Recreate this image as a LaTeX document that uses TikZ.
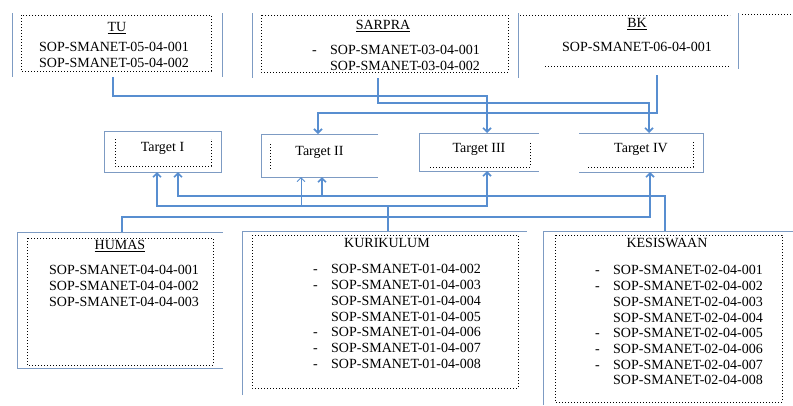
\documentclass[tikz,border=0pt]{standalone}
\usepackage{fontspec}
\setmainfont{Liberation Serif}
\usetikzlibrary{arrows.meta,fit}
\definecolor{linkblue}{RGB}{88,142,208}
\definecolor{frameblue}{RGB}{125,155,195}
\tikzset{
  unit/.style={inner sep=0pt, outer sep=0pt},
  frame/.style={draw=frameblue, line width=0.9pt},
  dotbox/.style={draw=black, dotted, line width=1pt},
  target/.style={inner sep=0pt, outer sep=0pt, text depth=9pt},
  sopitems/.style={inner sep=0pt, align=left, anchor=north west},
  link/.style={draw=linkblue, line width=1.6pt, -{Straight Barb[length=4pt,width=8pt]}},
  thinlink/.style={line width=0.9pt}
}
\newcommand{\unitbox}[3] {\node [unit, fit={(#2) (#3)}] (#1) {};}
\newcommand{\unittitle}[3] {\node [anchor=base] at (#1) (#2) {#3};}
\newcommand{\targetnode}[5] {\node [target, minimum width=#3pt, minimum height=#4pt] at (#1) (#2) {#5};}
\newcommand{\port}[2] {\coordinate (#1) at (#2);}
\newcommand{\dashitem}{\makebox[18pt][l]{-}}
\newcommand{\gapitem}{\hspace*{18pt}}

\begin{document}
\begin{tikzpicture}[x=1pt, y=-1pt, every node/.style={font=\fontsize{14pt}{15.7pt}\selectfont}]
\useasboundingbox (0,0) rectangle (793,405);

% units above
\unitbox {tu} {12,13} {222,77};
\unitbox {sarpra} {252,13} {518,78};
\unitbox {bk} {528,13} {738,75};
\draw [frame] (tu.north west) -- (tu.south west) (tu.north east) -- (tu.south east);
\draw [frame] (sarpra.north west) -- (sarpra.south west) (sarpra.north east) -- (sarpra.south east);
\draw [frame] (bk.north east) -- ([yshift=6pt]bk.south east);
\draw [dotbox] (21,15) rectangle (211,71);
\draw [dotbox] (261,15) rectangle (508,72);
\draw [dotbox] (520,15) -- (730,15) (545,66) -- (730,66) (742,14) -- (793,14);

\unittitle {117,31.5} {tutitle} {\underline{TU}};
\unittitle {383,29.5} {sarpratitle} {\underline{SARPRA}};
\unittitle {637,27.5} {bktitle} {\underline{BK}};
\node [sopitems, anchor=north, align=center] at (114,42.4) (tulist) {SOP-SMANET-05-04-001\\SOP-SMANET-05-04-002};
\node [sopitems] at (312,45.4) (sarpralist) {\dashitem SOP-SMANET-03-04-001\\\gapitem SOP-SMANET-03-04-002};
\node [sopitems, anchor=north, align=center] at (637,42.4) (bklist) {SOP-SMANET-06-04-001};

% targets
\targetnode {162.5,151.5} {t1} {117} {41} {Target I};
\targetnode {319.5,155.5} {t2} {117} {43} {Target II};
\targetnode {479,152} {t3} {120} {38} {Target III};
\targetnode {641,152.5} {t4} {124} {39} {Target IV};
\draw [frame] (t1.north west) rectangle (t1.south east);
\draw [frame] (t2.north east) -- (t2.north west) -- (t2.south west) -- (t2.south east);
\draw [frame] (t3.north east) -- (t3.north west) -- (t3.south west) -- (t3.south east);
\draw [frame] (t4.north west) -- (t4.north east) -- (t4.south east) -- (t4.south west);
\draw [dotbox] (115,139) -- (115,166) -- (211,166) -- (211,139);
\draw [dotbox] (270,144) -- (270,169);
\draw [dotbox] (430,167) -- (530,167) -- (530,142);
\draw [dotbox] (588,167) -- (693,167) -- (693,142);

% units below
\unitbox {hum} {17,232} {223,368};
\unitbox {kur} {242,231} {527,395};
\unitbox {kes} {543,231} {793,405};
\draw [frame] (hum.south east) -- (hum.south west) -- (hum.north west) -- (hum.north east);
\draw [frame] (kur.south west) -- (kur.north west) -- (kur.north east);
\draw [frame] (kes.south west) -- (kes.north west) -- (kes.north east);
\draw [dotbox] (27,238) rectangle (213,365);
\draw [dotbox] (252,235) rectangle (518,388);
\draw [dotbox] (555,235) rectangle (782,402);

\unittitle {120,249.5} {humtitle} {\underline{HUMAS}};
\unittitle {387,247.5} {kurtitle} {KURIKULUM};
\unittitle {667,247.5} {kestitle} {KESISWAAN};
\node [sopitems] at (49,265.4) (humlist) {SOP-SMANET-04-04-001\\SOP-SMANET-04-04-002\\SOP-SMANET-04-04-003};
\node [sopitems] at (313,264.4) (kurlist) {\dashitem SOP-SMANET-01-04-002\\\dashitem SOP-SMANET-01-04-003\\\gapitem SOP-SMANET-01-04-004\\\gapitem SOP-SMANET-01-04-005\\\dashitem SOP-SMANET-01-04-006\\\dashitem SOP-SMANET-01-04-007\\\dashitem SOP-SMANET-01-04-008};
\node [sopitems] at (595,265.4) (keslist) {\dashitem SOP-SMANET-02-04-001\\\dashitem SOP-SMANET-02-04-002\\\gapitem SOP-SMANET-02-04-003\\\gapitem SOP-SMANET-02-04-004\\\dashitem SOP-SMANET-02-04-005\\\dashitem SOP-SMANET-02-04-006\\\dashitem SOP-SMANET-02-04-007\\\gapitem SOP-SMANET-02-04-008};

% ports on the targets
\port {t1kur} {157,172};
\port {t1kes} {178,172};
\port {t2top} {318,134};
\port {t2kur} {301,177};
\port {t2kes} {322,177};
\port {t3top} {487,133};
\port {t3bot} {487,171};
\port {t4top} {649,133};
\port {t4bot} {650,172};

% links
\draw [link] ([xshift=-4pt]tu.south) -- ++(0,19) -| (t3top);
\draw [link] ([xshift=-7pt]sarpra.south) -- ++(0,25) -| (t4top);
\draw [link] ([xshift=24pt]bk.south) -- ++(0,38) -| (t2top);
\draw [link] ([xshift=-3pt]kes.north) -- ++(0,-35) coordinate (kesbend) -| (t1kes);
\draw [link] (t2kes |- kesbend) -- (t2kes);
\draw [link] ([xshift=3.5pt]kur.north) -- ++(0,-25) coordinate (kurbend) -| (t1kur);
\draw [link] (kurbend) -| (t3bot);
\draw [link, thinlink] (t2kur |- kurbend) -- (t2kur);
\draw [link] ([xshift=2pt]hum.north) -- ++(0,-15) -| (t4bot);

\end{tikzpicture}
\end{document}
